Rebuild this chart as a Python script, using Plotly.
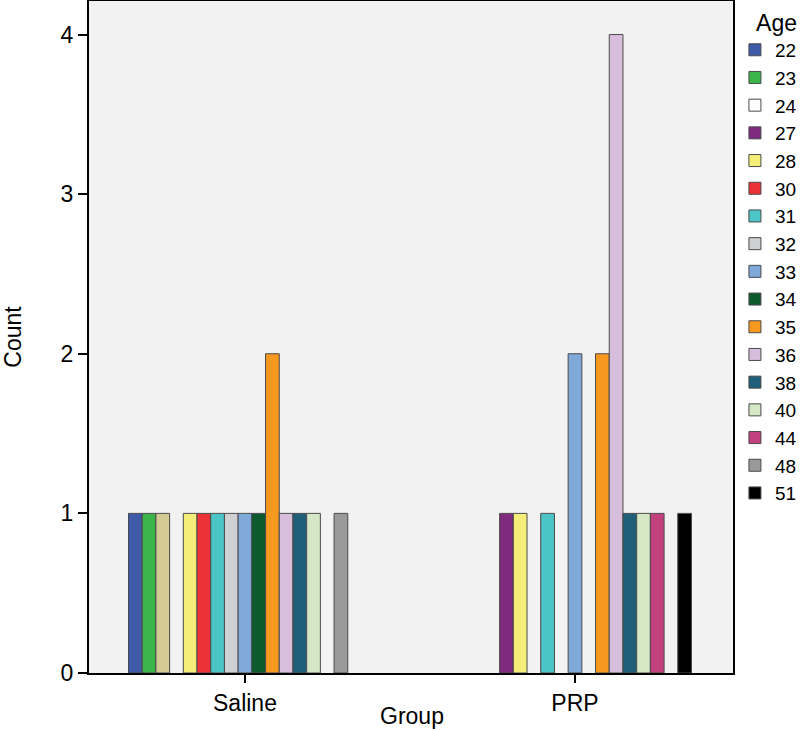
import plotly.graph_objects as go

groups = ["Saline", "PRP"]
ages = ["22", "23", "24", "27", "28", "30", "31", "32", "33", "34", "35", "36", "38", "40", "44", "48", "51"]
saline_counts = [1, 1, 1, None, 1, 1, 1, 1, 1, 1, 2, 1, 1, 1, None, 1, None]
prp_counts = [None, None, None, 1, 1, None, 1, None, 2, None, 2, 4, 1, 1, 1, None, 1]
colors = ["#3f5aa8", "#3bb54a", "#ffffff", "#7f2a7f", "#f5ef7a", "#ec3237", "#4bc5c5",
          "#cfd0d1", "#7fa9d8", "#0d5a2e", "#f7981f", "#d8bedd", "#1f5f7a", "#d5e8c6",
          "#c2407e", "#9a9a9a", "#000000"]
# bar colour used for the Saline 24 bar (drawn tan in the original)
saline_24_bar_color = "#d4cb94"

fig = go.Figure()
for i, age in enumerate(ages):
    bar_colors = [colors[i], colors[i]]
    xs = ["Saline", "PRP"]
    ys = [saline_counts[i], prp_counts[i]]
    if age == "24":
        xs = ["PRP", "Saline"]
        ys = [prp_counts[i], saline_counts[i]]
        bar_colors = [colors[i], saline_24_bar_color]
    fig.add_trace(go.Bar(
        x=xs, y=ys, name=age,
        marker=dict(color=bar_colors, line=dict(color="#4a4a4a", width=1)),
    ))

fig.update_layout(
    width=800, height=730,
    barmode="group", bargap=0.294, bargroupgap=0,
    plot_bgcolor="#f2f2f2", paper_bgcolor="white",
    margin=dict(l=89, r=67, t=1, b=57, autoexpand=False),
    font=dict(family="Liberation Sans, Arial, sans-serif", color="black", size=23),
    legend=dict(
        title=dict(text="&nbsp;&nbsp;&nbsp;Age", font=dict(size=23)),
        x=1.003, xanchor="left", y=1.0, yanchor="top",
        font=dict(size=19), bgcolor="rgba(0,0,0,0)",
        tracegroupgap=0,
    ),
    showlegend=True,
    annotations=[dict(
        text="Group", xref="paper", yref="paper", x=0.5016, y=-0.064,
        xanchor="center", yanchor="middle", showarrow=False, font=dict(size=23),
    )],
)
fig.update_xaxes(
    categoryorder="array", categoryarray=groups,
    range=[-0.4727, 1.4788],
    showline=True, linecolor="black", linewidth=2, mirror=True,
    ticks="outside", ticklen=8, tickcolor="black", tickwidth=2,
    tickfont=dict(size=23),
)
fig.update_yaxes(
    range=[0, 4.21], tickvals=[0, 1, 2, 3, 4],
    showgrid=False, zeroline=False,
    showline=True, linecolor="black", linewidth=2, mirror=True,
    ticks="outside", ticklen=9, tickcolor="black", tickwidth=1.5,
    title=dict(text="Count", standoff=34, font=dict(size=23)),
    tickfont=dict(size=23),
)
fig.write_html("out.html", config={"displayModeBar": False},
               post_script="document.body.style.margin='0';")
